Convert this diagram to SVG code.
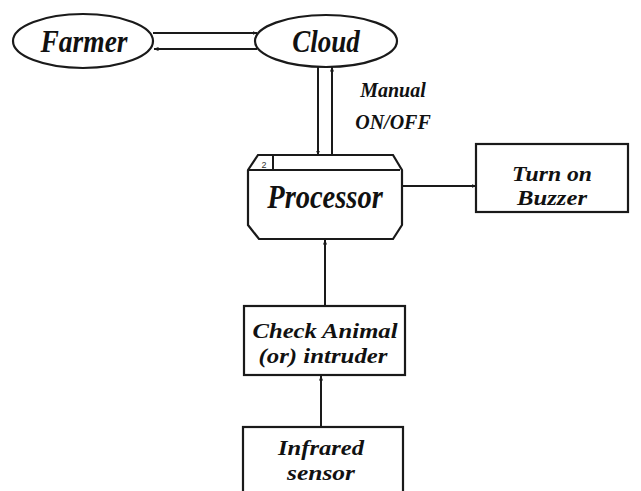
<svg xmlns="http://www.w3.org/2000/svg" width="641" height="491" viewBox="0 0 641 491">
  <style>
    .shape { fill: #ffffff; stroke: #1a1a1a; stroke-width: 2.2; }
    .edge { fill: none; stroke: #1a1a1a; stroke-width: 2; }
    .lbl { font-family: "Liberation Serif", "Times New Roman", serif; font-weight: bold; font-style: italic; fill: #111111; text-anchor: middle; }
  </style>
  <defs>
    <marker id="arrow" viewBox="0 0 10 10" refX="9" refY="5" markerWidth="5" markerHeight="5" orient="auto" markerUnits="userSpaceOnUse">
      <path d="M0,1 L10,5 L0,9 Z" fill="#1a1a1a"/>
    </marker>
  </defs>
  <rect width="641" height="491" fill="#ffffff"/>

  <!-- connectors -->
  <g id="connectors">
    <line class="edge" x1="153" y1="33" x2="257" y2="33" marker-end="url(#arrow)"/>
    <line class="edge" x1="257" y1="49" x2="154" y2="49" marker-end="url(#arrow)"/>
    <line class="edge" x1="318" y1="67" x2="318" y2="155" marker-end="url(#arrow)"/>
    <line class="edge" x1="332" y1="155" x2="332" y2="67" marker-end="url(#arrow)"/>
    <line class="edge" x1="402" y1="186" x2="476" y2="186" marker-end="url(#arrow)"/>
    <line class="edge" x1="325" y1="306" x2="325" y2="240" marker-end="url(#arrow)"/>
    <line class="edge" x1="321" y1="427" x2="321" y2="376" marker-end="url(#arrow)"/>
    <g transform="translate(393,97) scale(1,1.1)"><text class="lbl" x="0" y="0" font-size="20">Manual<tspan x="0" dy="29">ON/OFF</tspan></text></g>
  </g>

  <!-- nodes -->
  <g id="farmer">
    <ellipse class="shape" cx="83" cy="41" rx="70" ry="27"/>
    <g transform="translate(84,52) scale(1,1.15)"><text class="lbl" x="0" y="0" font-size="27.5">Farmer</text></g>
  </g>

  <g id="cloud">
    <ellipse class="shape" cx="326" cy="41" rx="71" ry="26"/>
    <g transform="translate(326,52) scale(1,1.15)"><text class="lbl" x="0" y="0" font-size="27">Cloud</text></g>
  </g>

  <g id="processor">
    <path class="shape" d="M258,155 L393,155 L402,170 L402,225 L393,239 L259,239 L248,225 L248,170 Z"/>
    <line class="edge" x1="248" y1="170" x2="400" y2="170"/>
    <line class="edge" x1="273" y1="155" x2="273" y2="170" stroke-width="1.4"/>
    <text x="264" y="168" font-family="Liberation Sans, Arial, sans-serif" font-size="9" fill="#333333" text-anchor="middle">2</text>
    <g transform="translate(325,208) scale(1,1.15)"><text class="lbl" x="0" y="0" font-size="28.5">Processor</text></g>
  </g>

  <g id="buzzer">
    <rect class="shape" x="476" y="144" width="152" height="68"/>
    <text class="lbl" x="552" y="181" font-size="21" textLength="80" lengthAdjust="spacingAndGlyphs">Turn on</text>
    <text class="lbl" x="552" y="205" font-size="21" textLength="70" lengthAdjust="spacingAndGlyphs">Buzzer</text>
  </g>

  <g id="check">
    <rect class="shape" x="244" y="306" width="161" height="69"/>
    <text class="lbl" x="325" y="338" font-size="22" textLength="145" lengthAdjust="spacingAndGlyphs">Check Animal</text>
    <text class="lbl" x="323" y="363" font-size="22" textLength="129" lengthAdjust="spacingAndGlyphs">(or) intruder</text>
  </g>

  <g id="sensor">
    <rect class="shape" x="243" y="427" width="160" height="80"/>
    <text class="lbl" x="321" y="455" font-size="22" textLength="86" lengthAdjust="spacingAndGlyphs">Infrared</text>
    <text class="lbl" x="321" y="480" font-size="22" textLength="68" lengthAdjust="spacingAndGlyphs">sensor</text>
  </g>
</svg>
